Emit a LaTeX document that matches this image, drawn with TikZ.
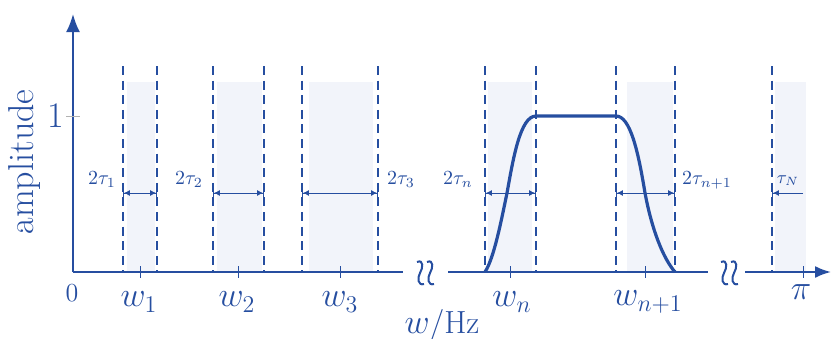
\documentclass[tikz,border=0pt]{standalone}
\usepackage{amsmath}
\usepackage{amssymb}
\usepackage{tikz}
\usetikzlibrary{arrows.meta}
\definecolor{plotblue}{RGB}{38,78,160}
\definecolor{bandshade}{RGB}{242,244,250}
\tikzset{
  axisline/.style={plotblue, line width=1pt},
  dashline/.style={plotblue, line width=1.2pt, dash pattern=on 4.5pt off 2.8pt},
  ticks/.style={plotblue, line width=0.5pt},
  widtharrow/.style={plotblue, line width=0.45pt,
    {Bar[width=5pt]Latex[length=3pt,width=3pt]}-{Latex[length=3pt,width=3pt]Bar[width=5pt]}},
  brk/.style={plotblue, line width=1pt},
  biglabel/.style={text=plotblue, font=\fontsize{18}{21}\selectfont},
  midlabel/.style={text=plotblue, font=\fontsize{16}{19}\selectfont},
  smalllabel/.style={text=plotblue, font=\fontsize{10}{12}\selectfont}
}

\begin{document}
\begin{tikzpicture}[x=0.5pt, y=-0.5pt]
    \useasboundingbox (0,0) rectangle (831,338);

    % Shaded bands
    \foreach \a/\b in {127/155, 217/262, 309/373, 488/532, 627/673, 775/806}
        \fill[bandshade] (\a,82) rectangle (\b,272);

    % Dashed band edges
    \foreach \x in {123,157,213,264,302,378,485,536,616,675,772}
        \draw[dashline] (\x,66) -- (\x,272);

    % Axes
    \coordinate (origin) at (73,272);
    \coordinate (ytop) at (73,14);
    \draw[axisline, -{Latex[length=9pt,width=7pt]}] (origin) -- (ytop);
    \draw[axisline] (origin) -- (403,272);
    \draw[axisline] (448,272) -- (708,272);
    \coordinate (xend) at (831,272);
    \draw[axisline, -{Latex[length=8pt,width=6pt]}] (745,272) -- (xend);

    % Axis breaks
    \foreach \x in {420,430,724,734}
        \draw[brk] (\x-3,262) .. controls (\x+4,259) and (\x+3,268) .. (\x,273)
            .. controls (\x-3,278) and (\x-2,286) .. (\x+4,284);

    % Ticks
    \draw[gray!60, line width=0.5pt] (66,116) -- (80,116);
    \foreach \x in {140,238,340,510,645,803}
        \draw[ticks] (\x,266) -- (\x,278);

    % Filter response
    \draw[plotblue, line width=1.6pt, line join=round]
        (485,272) .. controls (494,258) and (501,222) .. (507,193)
        .. controls (513,160) and (520,116) .. (536,116)
        -- (616,116)
        .. controls (630,116) and (638,150) .. (645,193)
        .. controls (652,230) and (663,258) .. (675,272);

    % Band widths
    \draw[widtharrow] (123,193) -- (157,193);
    \draw[widtharrow] (213,193) -- (264,193);
    \draw[widtharrow] (302,193) -- (378,193);
    \draw[widtharrow] (485,193) -- (536,193);
    \draw[widtharrow] (616,193) -- (675,193);
    \draw[plotblue, line width=0.45pt, -{Latex[length=3pt,width=3pt]Bar[width=5pt]}] (803,193) -- (772,193);

    \node[smalllabel] (t1) at (102,180) {$2\tau_1$};
    \node[smalllabel] (t2) at (189,180) {$2\tau_2$};
    \node[smalllabel] (t3) at (401,180) {$2\tau_3$};
    \node[smalllabel] (tn) at (458,180) {$2\tau_n$};
    \node[smalllabel] (tn1) at (707,180) {$2\tau_{n+1}$};
    \node[smalllabel, font=\fontsize{9}{11}\selectfont] (tN) at (788,181) {$\tau_N$};

    % Axis labels
    \node[biglabel, rotate=90] (amp) at (25,162) {amplitude};
    \node[biglabel] (one) at (56,116) {1};
    \node[midlabel, font=\fontsize{13}{15}\selectfont] (zero) at (72,293) {0};
    \node[biglabel] (w1) at (139,302) {$w_1$};
    \node[biglabel] (w2) at (237,302) {$w_2$};
    \node[biglabel] (w3) at (340,302) {$w_3$};
    \node[biglabel] (wn) at (512,302) {$w_n$};
    \node[biglabel] (wn1) at (648,302) {$w_{n+1}$};
    \node[biglabel] (pi) at (801,292) {$\pi$};
    \node[midlabel] (unit) at (442,325) {$w$/Hz};
\end{tikzpicture}
\end{document}
